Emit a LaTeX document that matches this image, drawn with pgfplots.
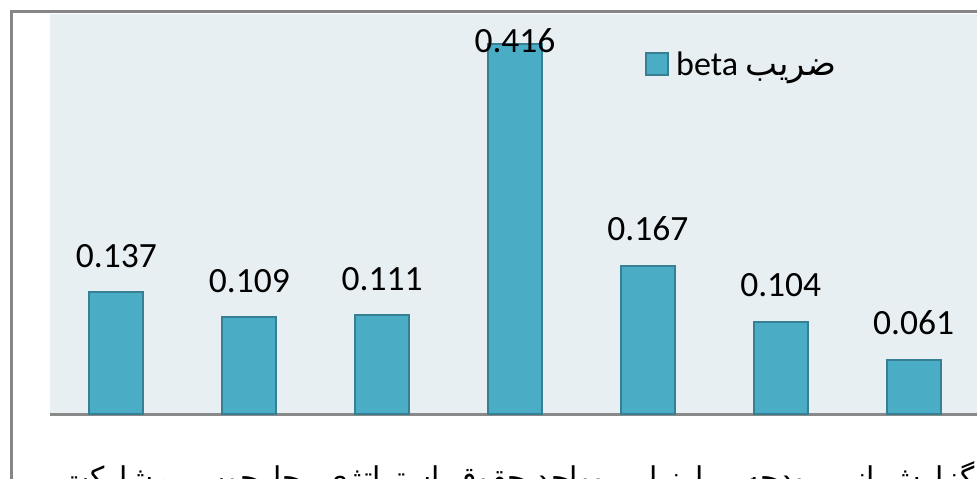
\documentclass[border=0pt]{standalone}
\usepackage{pgfplots}
\pgfplotsset{compat=1.18}
\usepackage{fontspec}
\setmainfont{Carlito}
\newfontfamily\persian[Script=Arabic]{DejaVu Sans}
\TeXXeTstate=1
\definecolor{plotbg}{RGB}{232,239,242}
\definecolor{barfill}{RGB}{75,172,198}
\definecolor{baredge}{RGB}{55,128,148}
\definecolor{framegray}{RGB}{134,134,134}
\definecolor{axisgray}{RGB}{137,137,137}
\begin{document}
\begin{tikzpicture}
\path[use as bounding box] (0pt,0pt) rectangle (977pt,-479pt);
\clip (0pt,0pt) rectangle (977pt,-479pt);
\fill[white] (0pt,0pt) rectangle (977pt,-479pt);
\begin{axis}[
  at={(50pt,-414pt)}, anchor=south west,
  scale only axis, width=930pt, height=400pt,
  xmin=-0.5, xmax=6.5, ymin=0, ymax=0.45,
  axis background/.style={fill=plotbg},
  axis x line*=bottom, axis y line=none,
  x axis line style={draw=axisgray, line width=3pt},
  xtick={0,...,6},
  xticklabels={{\beginR مشارکت\endR},{\beginR چارچوب\endR},{\beginR استراتژی\endR},{\beginR واحد حقوقی\endR},{\beginR ارزیابی و\endR},{\beginR بودجه\endR},{\beginR گزارش از\endR}},
  major tick length=0pt,
  ytick=\empty,
  xticklabel style={font=\persian\fontsize{30}{36}\selectfont, anchor=base, yshift=-74pt},
  ybar, bar width=54pt,
  /pgf/number format/.cd, fixed, fixed zerofill, precision=3, assume math mode=true, /pgfplots/.cd,
  legend style={at={(0.6398,0.875)}, anchor=west, draw=none, fill=none, inner sep=0pt,
    font=\fontsize{34}{40}\selectfont,
    /tikz/every odd column/.append style={column sep=5pt}},
  clip=false,
]
\addplot[fill=barfill, draw=baredge, line width=2pt, bar shift=0pt,
  nodes near coords,
  nodes near coords style={font=\fontsize{35.5}{42}\selectfont, anchor=base, yshift=25pt, text=black},
  legend image code/.code={\draw[##1] (0pt,-11pt) rectangle (22pt,11pt);}]
  coordinates {(0,0.137) (1,0.109) (2,0.111) (4,0.167) (5,0.104) (6,0.061)};
\addlegendentry{beta {\persian ضریب}}
\addplot[fill=barfill, draw=baredge, line width=2pt, bar shift=0pt, forget plot,
  nodes near coords,
  nodes near coords style={font=\fontsize{35.5}{42}\selectfont, anchor=base, yshift=-8pt, text=black}]
  coordinates {(3,0.416)};
\end{axis}
\draw[framegray, line width=3pt] (11.5pt,-11.5pt) rectangle (1100pt,-600pt);
\end{tikzpicture}
\end{document}
